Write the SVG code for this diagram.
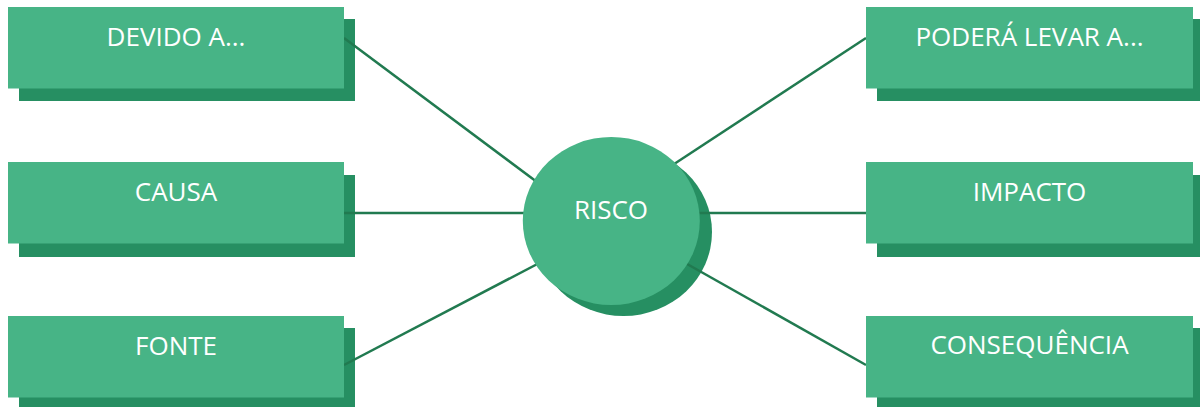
<svg xmlns="http://www.w3.org/2000/svg" width="1200" height="407" viewBox="0 0 1200 407">
  <style>
    .front { fill: #47b486; }
    .shade { fill: #268f62; }
    .link { stroke: #217a50; stroke-width: 2.5; fill: none; }
    .label { font-family: "Open Sans", "Noto Sans", sans-serif; font-size: 26px; fill: #ffffff; text-anchor: middle; }
  </style>

  <!-- drop shadows sit beneath the connectors -->
  <g id="shadows">
    <rect class="shade" x="19" y="19" width="336" height="82"/>
    <rect class="shade" x="19" y="175" width="336" height="82"/>
    <rect class="shade" x="19" y="328" width="336" height="82"/>
    <rect class="shade" x="877" y="19" width="330" height="82"/>
    <rect class="shade" x="877" y="175" width="330" height="82"/>
    <rect class="shade" x="877" y="328" width="330" height="82"/>
    <ellipse class="shade" cx="623.5" cy="232" rx="88.5" ry="84"/>
  </g>

  <g id="connectors">
    <line class="link" x1="344" y1="38" x2="545" y2="188"/>
    <line class="link" x1="344" y1="213" x2="540" y2="213"/>
    <line class="link" x1="344" y1="365" x2="545" y2="260"/>
    <line class="link" x1="866" y1="38" x2="665" y2="170"/>
    <line class="link" x1="866" y1="213" x2="690" y2="213"/>
    <line class="link" x1="866" y1="365" x2="680" y2="260"/>
  </g>

  <g id="devido">
    <rect class="front" x="8" y="7" width="336" height="81.5"/>
    <text class="label" x="176" y="46">DEVIDO A...</text>
  </g>
  <g id="causa">
    <rect class="front" x="8" y="162" width="336" height="81.5"/>
    <text class="label" x="176" y="201">CAUSA</text>
  </g>
  <g id="fonte">
    <rect class="front" x="8" y="316" width="336" height="81.5"/>
    <text class="label" x="176" y="355">FONTE</text>
  </g>
  <g id="podera">
    <rect class="front" x="866" y="7" width="327" height="81.5"/>
    <text class="label" x="1029.5" y="46">PODERÁ LEVAR A...</text>
  </g>
  <g id="impacto">
    <rect class="front" x="866" y="162" width="327" height="81.5"/>
    <text class="label" x="1029.5" y="201">IMPACTO</text>
  </g>
  <g id="consequencia">
    <rect class="front" x="866" y="316" width="327" height="81.5"/>
    <text class="label" x="1029.5" y="354">CONSEQUÊNCIA</text>
  </g>
  <g id="risco">
    <ellipse class="front" cx="611.3" cy="221" rx="88.5" ry="84"/>
    <text class="label" x="611" y="219">RISCO</text>
  </g>
</svg>
